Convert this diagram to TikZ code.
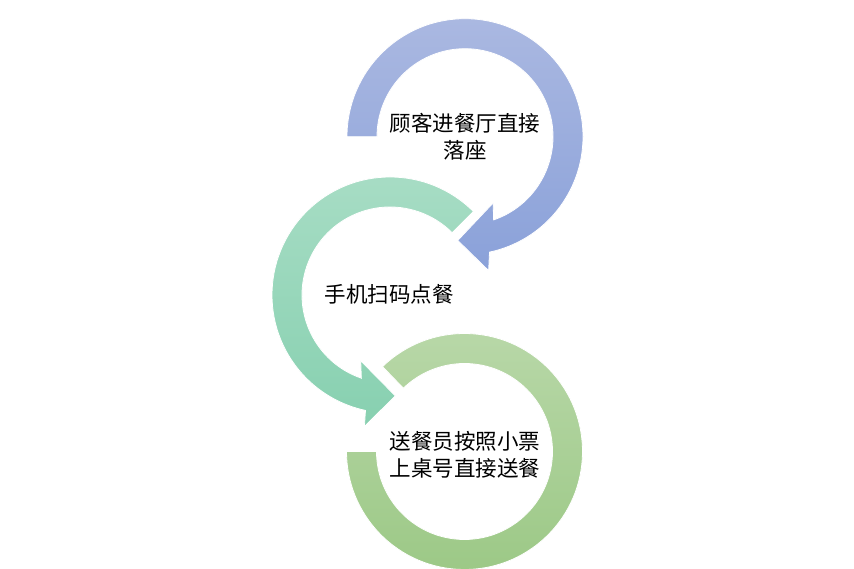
\documentclass[tikz,border=0pt]{standalone}
\usepackage{fontspec}
\newfontfamily\cjk{Noto Sans CJK SC}
\definecolor{blueTop}{RGB}{170,184,225}
\definecolor{blueBot}{RGB}{138,161,217}
\definecolor{tealTop}{RGB}{168,221,197}
\definecolor{tealBot}{RGB}{135,208,176}
\definecolor{grnTop}{RGB}{185,216,169}
\definecolor{grnBot}{RGB}{155,200,133}
\tikzset{
  ringshape/.style={draw=white, line width=0.8pt, shading=axis, shading angle=0},
  lbl/.style={font=\cjk\fontsize{21.5}{27}\selectfont, align=center, text=black, inner sep=0pt}
}
\begin{document}
\begin{tikzpicture}[x=1pt,y=1pt]
\useasboundingbox[fill=white] (0,0) rectangle (854,569);
% blue ring (clockwise from left)
\begin{scope}[shift={(465,432.3)}]
\path[ringshape, top color=blueTop, bottom color=blueBot]
  (180:118pt) arc[start angle=180, end angle=-78, radius=118pt]
  -- (-80:136pt) -- (-94:104pt) -- (-67:72pt) -- (-71:88pt)
  arc[start angle=-71, end angle=180, radius=88pt] -- cycle;
\end{scope}
% teal ring (counter-clockwise from 45)
\begin{scope}[shift={(390,274)}]
\path[ringshape, top color=tealTop, bottom color=tealBot]
  (45:118pt) arc[start angle=45, end angle=258, radius=118pt]
  -- (259:134pt) -- (273:101pt) -- (246:72pt) -- (251:88pt)
  arc[start angle=251, end angle=45, radius=88pt] -- cycle;
\end{scope}
% light green ring
\begin{scope}[shift={(464.5,117.5)}]
\path[ringshape, top color=grnTop, bottom color=grnBot]
  (134:118pt) arc[start angle=134, end angle=-180, radius=118pt]
  -- (180:88pt)
  arc[start angle=-180, end angle=134, radius=88pt] -- cycle;
\end{scope}
\node[lbl] (t1) at (465,432) {顾客进餐厅直接\\落座};
\node[lbl] (t2) at (389,275) {手机扫码点餐};
\node[lbl] (t3) at (465,114) {送餐员按照小票\\上桌号直接送餐};
\end{tikzpicture}
\end{document}
